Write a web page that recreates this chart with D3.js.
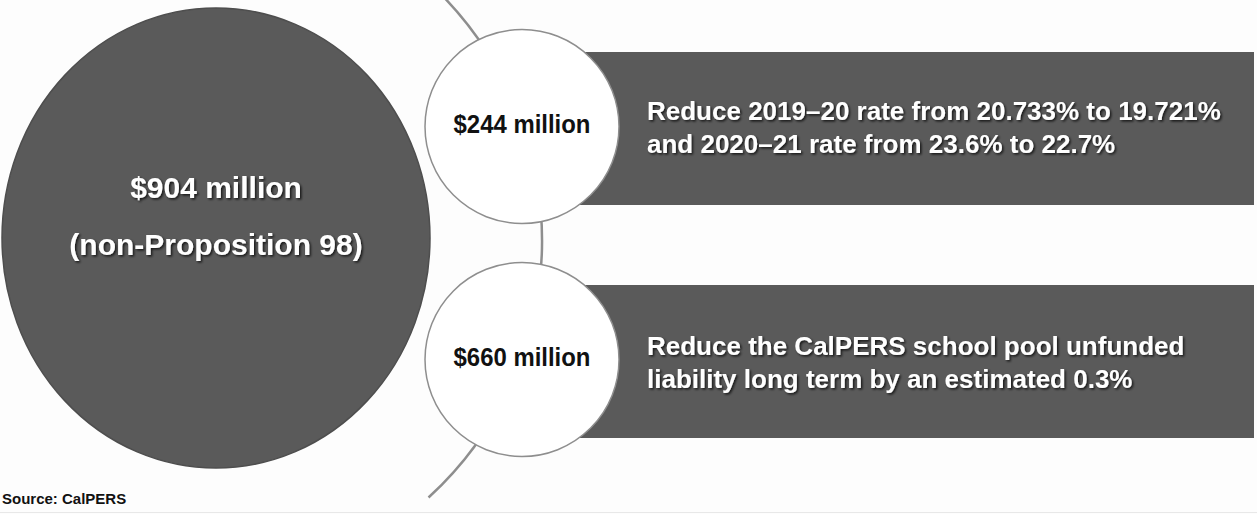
<!DOCTYPE html>
<html>
<head>
<meta charset="utf-8">
<script src="https://cdn.jsdelivr.net/npm/d3@7"></script>
<style>
  html, body { margin: 0; padding: 0; background: #fdfdfd; }
  svg { display: block; font-family: "Liberation Sans", Arial, sans-serif; font-weight: bold; }
</style>
</head>
<body>
<svg id="chart" width="1257" height="514"></svg>
<script>
// Total payment and how it is split
const totalValue = 904;
const totalNote = "(non-Proposition 98)";

const partKeys = ["rate", "liability"];
const partValues = [244, 660];
const partDescriptions = [
  ["Reduce 2019\u201320 rate from 20.733% to 19.721%", "and 2020\u201321 rate from 23.6% to 22.7%"],
  ["Reduce the CalPERS school pool unfunded", "liability long term by an estimated 0.3%"]
];
const sourceNote = "Source: CalPERS";

const W = 1257, H = 514;
const svg = d3.select("#chart");
const fmt = v => `$${d3.format(",")(v)} million`;

const dark = "#5a5a5a";
const lineGrey = "#8e8e8e";

// white label shadow
const defs = svg.append("defs");
const sh = defs.append("filter").attr("id", "shadow")
  .attr("x", "-5%").attr("y", "-20%").attr("width", "110%").attr("height", "140%");
sh.append("feDropShadow").attr("dx", 1.5).attr("dy", 1.5).attr("stdDeviation", 0.8)
  .attr("flood-color", "#000").attr("flood-opacity", 0.75);

// rows for the two parts
const y = d3.scaleBand().domain(partKeys).range([10, 476]);
const rowMid = k => y(k) + y.bandwidth() / 2;
const smallCx = 522, smallR = 97;
const barH = 153, barRight = 1254, textX = 647;

// big circle for the total
const big = { cx: 216, cy: 238, rx: 214, ry: 230 };

// orbit line linking the parts
const orbit = { cx: 193, cy: 240, r: 349 };
const p = d3.path();
p.arc(orbit.cx, orbit.cy, orbit.r, -1.0, 0.83);
svg.append("path").attr("d", p.toString())
  .attr("fill", "none").attr("stroke", lineGrey).attr("stroke-width", 2.5);

// total circle
svg.append("ellipse")
  .attr("cx", big.cx).attr("cy", big.cy).attr("rx", big.rx).attr("ry", big.ry)
  .attr("fill", dark).attr("stroke", "#4e4e4e").attr("stroke-width", 1.5);

const totalText = svg.append("g").attr("fill", "#fff").attr("font-size", 30)
  .attr("text-anchor", "middle").attr("filter", "url(#shadow)");
totalText.append("text").attr("x", big.cx).attr("y", 198).text(fmt(totalValue));
totalText.append("text").attr("x", big.cx).attr("y", 255).text(totalNote);

const parts = partKeys.map((k, i) => ({ key: k, value: partValues[i], desc: partDescriptions[i] }));

// description bars
const rows = svg.selectAll("g.row").data(parts).join("g").attr("class", "row");
rows.append("rect")
  .attr("x", smallCx).attr("width", barRight - smallCx)
  .attr("y", d => rowMid(d.key) - barH / 2 + 2).attr("height", barH)
  .attr("fill", dark);

rows.each(function (d, i) {
  const g = d3.select(this).append("text")
    .attr("fill", "#fff").attr("font-size", 26).attr("filter", "url(#shadow)");
  const base = rowMid(d.key) + (i === 0 ? -7 : -5);
  d.desc.forEach((line, j) => {
    g.append("tspan").attr("x", textX).attr("y", base + j * 33).text(line);
  });
});

// value circles
rows.append("circle")
  .attr("cx", smallCx).attr("cy", d => rowMid(d.key)).attr("r", smallR)
  .attr("fill", "#fff").attr("stroke", lineGrey).attr("stroke-width", 1.5);
rows.append("text")
  .attr("transform", d => `translate(${smallCx + 0},${rowMid(d.key) + 6.5}) scale(0.92,1)`)
  .attr("text-anchor", "middle").attr("font-size", 26).attr("fill", "#111")
  .text(d => fmt(d.value));

// source note and bottom rule
svg.append("text").attr("x", 2).attr("y", 504).attr("font-size", 15).attr("fill", "#111")
  .text(sourceNote);
svg.append("line").attr("x1", 0).attr("x2", W).attr("y1", 512.5).attr("y2", 512.5)
  .attr("stroke", "#e8e8e8").attr("stroke-width", 1);
</script>
</body>
</html>
